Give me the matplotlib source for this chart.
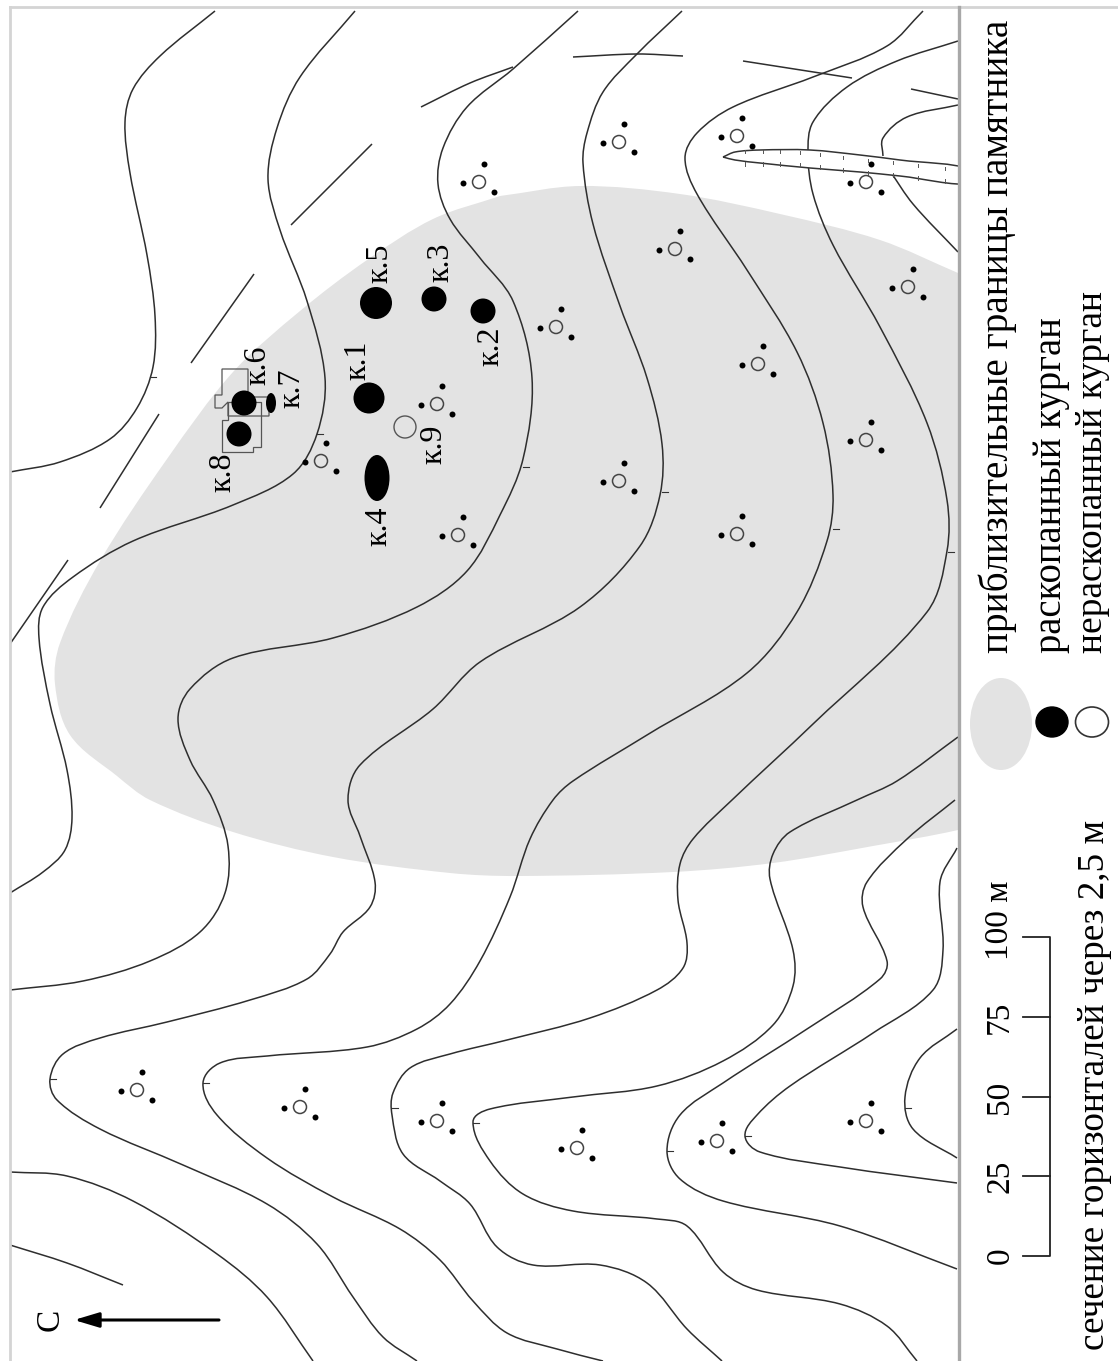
import math
import matplotlib
matplotlib.use('Agg')
import matplotlib.pyplot as plt
from matplotlib.path import Path
from matplotlib.patches import PathPatch, Ellipse, Circle, Polygon, Rectangle

plt.rcParams['font.family'] = ['Liberation Serif', 'DejaVu Serif']

# Координаты (пиксели исходного рисунка)
boundary = [(500,196),(433,219),(367,260),(300,311),(233,372),(167,459),(100,561),(60,643),(55,684),(70,735),
            (117,776),(150,800),(233,832),(333,857),(450,873),(517,876),(673,872),(773,863),(873,846),(958,830),
            (1010,815),(1030,550),(1010,295),(958,273),(880,240),(780,214),(680,194),(580,186)]

contour_1 = [(215,11),(160,56),(133,89),(125,122),(130,173),(147,255),(155,316),(153,367),(137,408),(110,439),(60,462),(10,472)]
contour_2 = [(355,11),(300,77),(277,128),(268,179),(280,230),(307,301),(325,378),(317,434),(293,474),(233,505),(133,541),
             (73,577),(43,607),(39,638),(50,704),(67,770),(72,818),(65,850),(43,872),(10,893)]
contour_3 = [(578,11),(513,69),(467,107),(443,148),(438,184),(450,219),(480,258),(513,301),(532,378),(523,459),(500,515),
             (467,571),(417,607),(333,638),(233,658),(190,689),(178,719),(190,760),(213,800),(228,846),(225,893),(200,932),
             (150,961),(83,981),(10,990)]
contour_4 = [(682,11),(637,54),(603,92),(587,133),(583,163),(593,224),(620,306),(647,378),(662,444),(660,495),(640,546),
             (580,607),(480,662),(433,709),(360,765),(348,800),(360,836),(375,882),(370,907),(343,932),(330,954),(307,979),
             (250,1000),(167,1022),(100,1038),(63,1054),(50,1079),(57,1100),(100,1129),(183,1165),(267,1204),(317,1244),
             (353,1297),(383,1337),(417,1361)]
contour_5 = [(923,11),(887,46),(813,77),(733,107),(697,133),(685,158),(697,194),(747,270),(797,352),(823,423),(833,495),
             (827,541),(797,612),(747,673),(647,735),(573,781),(553,800),(530,839),(510,897),(480,961),(450,1004),(417,1029),
             (367,1047),(267,1056),(220,1063),(203,1083),(217,1115),(267,1158),(333,1197),(400,1229),(440,1260),(473,1301),
             (507,1333),(557,1349),(603,1361)]
contour_6 = [(958,41),(897,61),(847,87),(813,122),(808,153),(813,194),(833,245),(880,327),(927,423),(947,500),(947,551),
             (927,612),(813,724),(732,800),(693,839),(680,864),(678,900),(687,943),(683,968),(657,990),(590,1018),(507,1040),
             (450,1054),(410,1068),(393,1093),(392,1115),(403,1154),(440,1181),(470,1204),(497,1247),(533,1265),(600,1265),
             (647,1283),(687,1329),(722,1361)]
contour_7 = [(958,737),(897,781),(857,800),(790,832),(773,854),(770,879),(793,950),(793,986),(773,1025),(723,1061),(657,1086),
             (573,1097),(490,1109),(473,1122),(490,1161),(523,1194),(573,1211),(657,1219),(687,1226),(723,1272),(757,1290),
             (840,1304),(887,1326),(917,1361)]
contour_8 = [(955,800),(907,839),(867,882),(863,907),(887,961),(880,979),(807,1029),(723,1083),(680,1115),(667,1151),(680,1179),
             (723,1201),(840,1226),(957,1269)]
contour_9 = [(957,848),(940,882),(943,950),(933,990),(873,1033),(790,1086),(757,1115),(745,1136),(760,1152),(840,1167),(957,1183)]
contour_10 = [(957,1029),(920,1058),(905,1097),(913,1129),(957,1158)]
contour_11 = [(958,105),(907,117),(883,138),(883,156)]
contour_12 = [(890,171),(913,204),(958,252)]
contour_13 = [(10,1172),(67,1176),(133,1201),(217,1254),(267,1297),(313,1361)]
contour_14 = [(10,1245),(67,1263),(123,1285)]
contours = [contour_1, contour_2, contour_3, contour_4, contour_5, contour_6, contour_7, contour_8, contour_9,
            contour_10, contour_11, contour_12, contour_13, contour_14]

road_parts = [[(10,644),(68,560)], [(100,508),(159,414)], [(191,363),(254,274)], [(291,225),(372,144)],
              [(421,107),(470,83),(513,67)], [(573,57),(637,54),(683,56)], [(743,61),(852,78)], [(911,89),(958,99)]]

slope_ticks = [(150,377),(317,434),(523,467),(662,492),(833,529),(948,552),(50,1079),(203,1083),(392,1108),
               (473,1123),(667,1151),(745,1136),(905,1108)]

stream_top = [(723,157),(735,152),(760,150),(810,150),(860,155),(900,160),(975,170)]
stream_bottom = [(975,184),(900,176),(860,172),(810,168),(760,163),(735,160),(723,157)]
stream_ticks = [745,763,780,800,820,843,868,893,918,945]

site_x = [137,300,437,577,717,866,321,458,619,737,866,758,908,675,556,479,619,737,866,437]
site_y = [1090,1107,1121,1148,1141,1121,461,535,481,534,440,364,287,249,327,182,142,136,182,404]

mound_x = [369,483,434,377,376,244,271,239]
mound_y = [398,311,299,478,303,403,403,434]
mound_w = [31,25,25,25,32,25,10,25]
mound_h = [31,25,25,46,32,25,20,25]

label_names = ['к.1','к.2','к.3','к.4','к.5','к.6','к.7','к.8','к.9']
label_x = [358,491,441,379,380,258,292,223,434]
label_y = [380,366,282,546,283,385,408,492,464]

building_a = [(222,369),(248,369),(248,397),(269,397),(269,416),(228,416),(228,402),(222,408),(215,408),(215,395),(222,395)]
building_b = [(222,420),(222,452),(253,452),(253,447),(261,447),(261,402),(228,402),(228,420)]

scale_values = ['0','25','50','75','100 м']
scale_y = [1256,1176,1097,1017,937]
scale_label_y = [1256,1176,1097,1017,960]


def smooth(points):
    # гладкая кривая через точки: касательная по соседям, длина по отрезку
    def tangent(a, b):
        dx, dy = b[0] - a[0], b[1] - a[1]
        d = math.hypot(dx, dy) or 1
        return dx / d, dy / d

    verts = [points[0]]
    codes = [Path.MOVETO]
    for i in range(len(points) - 1):
        p0 = points[max(i - 1, 0)]
        p1 = points[i]
        p2 = points[i + 1]
        p3 = points[min(i + 2, len(points) - 1)]
        seg = math.hypot(p2[0] - p1[0], p2[1] - p1[1]) / 3
        t1 = tangent(p0, p2)
        t2 = tangent(p1, p3)
        verts += [(p1[0] + t1[0] * seg, p1[1] + t1[1] * seg),
                  (p2[0] - t2[0] * seg, p2[1] - t2[1] * seg), p2]
        codes += [Path.CURVE4] * 3
    return verts, codes


figure = plt.figure(figsize=(11.18, 13.61), dpi=100)
ax = figure.add_axes([0, 0, 1, 1])
ax.set_xlim(0, 1118)
ax.set_ylim(1361, 0)
ax.axis('off')

map_area = Rectangle((10, 7), 948, 1354, transform=ax.transData)

# Граница памятника
verts, codes = smooth(boundary + [boundary[0]])
patch = ax.add_patch(PathPatch(Path(verts, codes), facecolor='#e3e3e3', edgecolor='none', zorder=1))
patch.set_clip_path(map_area)

# Горизонтали
for line in contours + road_parts:
    verts, codes = smooth(line)
    patch = ax.add_patch(PathPatch(Path(verts, codes), facecolor='none', edgecolor='#2e2e2e', lw=1.1, zorder=2))
    patch.set_clip_path(map_area)
for x, y in slope_ticks:
    ax.plot([x, x + 6], [y, y], color='#333333', lw=0.8, zorder=2)

# Овраг
verts, codes = smooth(stream_top + stream_bottom)
patch = ax.add_patch(PathPatch(Path(verts, codes), facecolor='white', edgecolor='#333333', lw=1.1, zorder=3))
patch.set_clip_path(map_area)
for x in stream_ticks:
    t = 150 + max(0, x - 790) * 0.11
    ax.plot([x, x], [t, t + 3], color='#555555', lw=0.7, zorder=3)
    ax.plot([x, x], [t + 16, t + 12], color='#555555', lw=0.7, zorder=3)

# Условные значки
for x, y in zip(site_x, site_y):
    ax.add_patch(Circle((x, y), 6.5, facecolor='none', edgecolor='#444444', lw=1.1, zorder=4))
    ax.plot([x - 16, x + 5, x + 15], [y + 1, y - 18, y + 10], 'o', color='black', ms=4.3, mew=0, zorder=4)
ax.add_patch(Circle((405, 427), 11, facecolor='none', edgecolor='#555555', lw=1.0, zorder=4))

for poly in (building_a, building_b):
    ax.add_patch(Polygon(poly, closed=True, facecolor='none', edgecolor='#555555', lw=0.9, zorder=4))

for i in range(len(mound_x)):
    ax.add_patch(Ellipse((mound_x[i], mound_y[i]), mound_w[i], mound_h[i], color='black', lw=0, zorder=5))
for i in range(len(label_names)):
    ax.text(label_x[i], label_y[i], label_names[i], rotation=90, fontsize=23, ha='center', va='bottom', zorder=6)

# Рамка
ax.plot([10, 10], [7, 1361], color='#d4d4d4', lw=2, zorder=7)
ax.plot([10, 1118], [7, 7], color='#d4d4d4', lw=2, zorder=7)
ax.plot([959, 959], [7, 1361], color='#a8a8a8', lw=2.4, zorder=7)

# Север
ax.annotate('', xy=(74, 1320), xytext=(219, 1320),
            arrowprops=dict(arrowstyle='-|>,head_length=1.5,head_width=0.45', color='black', lw=2.2, shrinkA=0, shrinkB=0))
ax.text(50, 1320, 'С', rotation=90, fontsize=24, ha='center', va='center')

# Масштаб
ax.plot([1023, 1050, 1050, 1023], [scale_y[0], scale_y[0], scale_y[-1], scale_y[-1]], color='#222222', lw=1.3)
for y in scale_y[1:-1]:
    ax.plot([1023, 1050], [y, y], color='#222222', lw=1.3)
for text, y in zip(scale_values, scale_label_y):
    ax.text(1000, y, text, rotation=90, fontsize=24, ha='center', va='center' if text != '100 м' else 'bottom')

# Легенда
ax.add_patch(Ellipse((1001, 724), 62, 92, facecolor='#e3e3e3', edgecolor='none'))
ax.add_patch(Ellipse((1052, 722), 32, 30, color='black'))
ax.add_patch(Ellipse((1092, 722), 33, 30, facecolor='none', edgecolor='#333333', lw=1.2))
ax.text(998, 653, 'приблизительные границы памятника', rotation=90, fontsize=28.3, ha='center', va='bottom')
ax.text(1051, 653, 'раскопанный курган', rotation=90, fontsize=27.8, ha='center', va='bottom')
ax.text(1093, 653, 'нераскопанный курган', rotation=90, fontsize=27, ha='center', va='bottom')
ax.text(1095, 1350, 'сечение горизонталей через 2,5 м', rotation=90, fontsize=26.8, ha='center', va='bottom')

figure.savefig('out.png', dpi=100)
